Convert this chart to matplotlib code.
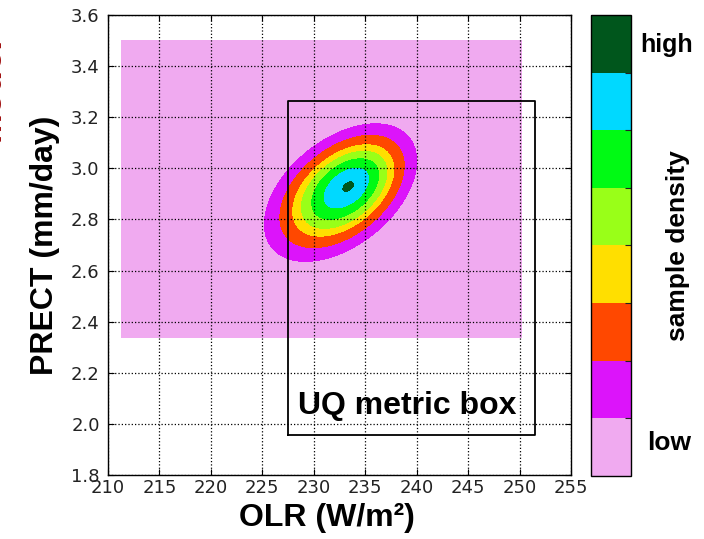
import numpy as np
import matplotlib
matplotlib.use("Agg")
import matplotlib.pyplot as plt

# sample cloud: peak, outer-contour centre, spread and correlation of OLR vs PRECT
olr_peak, prect_peak = 233.4, 2.93
olr_edge, prect_edge = 232.6, 2.905
olr_sd, prect_sd, rho = 3.63, 0.132, 0.46

# sampled parameter domain
olr_range = [211.3, 250.2]
prect_range = [2.34, 3.5]

# UQ metric box
box_olr = [227.5, 251.5]
box_prect = [1.955, 3.265]

# density levels as fraction of peak
levels = [0.0, 0.125, 0.25, 0.40, 0.52, 0.67, 0.84, 0.99, 1.01]
colors = ["#f0aaf0", "#dc14fa", "#ff4800", "#ffdf00",
          "#99ff18", "#00fa14", "#00d9ff", "#00561c"]

xticks = np.arange(210, 256, 5)
yticks = np.arange(1.8, 3.61, 0.2)

plt.rcParams["xtick.direction"] = "in"
plt.rcParams["ytick.direction"] = "in"
plt.rcParams["xtick.top"] = True
plt.rcParams["ytick.right"] = True

fig = plt.figure(figsize=(7.04, 5.39), dpi=100)
ax = fig.add_axes([0.1534, 0.1187, 0.6577, 0.8535])

x = np.linspace(olr_range[0], olr_range[1], 500)
y = np.linspace(prect_range[0], prect_range[1], 500)
X, Y = np.meshgrid(x, y)

# skewed cloud: ellipse centre drifts from the peak toward the lower left
# as the contour radius grows (solved by fixed-point iteration)
r_out = np.sqrt(-2 * np.log(levels[1]))
r = np.zeros_like(X)
for _ in range(30):
    cx = olr_peak + (olr_edge - olr_peak) * r / r_out
    cy = prect_peak + (prect_edge - prect_peak) * r / r_out
    u = (X - cx) / olr_sd
    v = (Y - cy) / prect_sd
    r = np.sqrt((u**2 - 2 * rho * u * v + v**2) / (1 - rho**2))
Z = np.exp(-0.5 * r**2)

cs = ax.contourf(X, Y, Z, levels=levels, colors=colors, zorder=1)

ax.plot([box_olr[0], box_olr[1], box_olr[1], box_olr[0], box_olr[0]],
        [box_prect[0], box_prect[0], box_prect[1], box_prect[1], box_prect[0]],
        color="black", lw=1.3, zorder=3)
ax.text(228.5, 2.07, "UQ metric box", fontsize=23, fontweight="bold",
        family="Liberation Sans", va="center", ha="left", zorder=4)

ax.set_xlim(210, 255)
ax.set_ylim(1.8, 3.6)
ax.set_xticks(xticks)
ax.set_yticks(yticks)
ax.set_yticklabels(["%.1f" % t for t in yticks])
ax.tick_params(labelsize=13, labelcolor="#222222", length=4, width=0.8)
ax.tick_params(axis="y", pad=6)
ax.tick_params(axis="x", pad=3)
ax.grid(True, color="black", linestyle=":", linewidth=0.9)
ax.set_axisbelow(False)
for s in ax.spines.values():
    s.set_linewidth(1.0)

ax.set_xlabel("OLR (W/m²)", fontsize=23, fontweight="bold",
              family="Liberation Sans", labelpad=4)
ax.xaxis.label.set_x(0.473)
ax.set_ylabel("PRECT (mm/day)", fontsize=23, fontweight="bold",
              family="Liberation Sans", labelpad=8)

# colour bar with equal bands
cax = fig.add_axes([0.8395, 0.1169, 0.0568, 0.8553])
cb = fig.colorbar(cs, cax=cax, spacing="uniform")
cb.set_ticks(levels[1:-1])
cb.ax.tick_params(labelright=False, length=4, direction="in", color="#222222")
cb.outline.set_linewidth(1.0)

fig.text(0.909, 0.916, "high", fontsize=18, fontweight="bold",
         family="Liberation Sans", va="center", ha="left")
fig.text(0.919, 0.179, "low", fontsize=19, fontweight="bold",
         family="Liberation Sans", va="center", ha="left")
fig.text(0.963, 0.545, "sample density", fontsize=19, fontweight="bold",
         family="Liberation Sans", rotation=90, va="center", ha="center")

# slide title cut at the left edge
fig.text(0.0115, 0.835, "Model", fontsize=26, fontweight="bold",
         family="Liberation Sans", color="#a01010", rotation=90,
         va="center", ha="right")

fig.savefig("out.png", dpi=100)
